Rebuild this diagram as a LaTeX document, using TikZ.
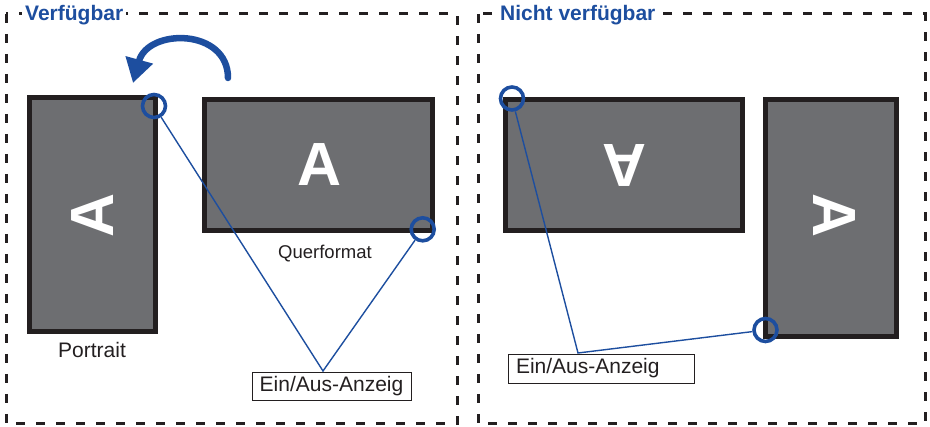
\documentclass[tikz,border=0pt]{standalone}
\usepackage{fontspec}
\setmainfont{Liberation Sans}
\usetikzlibrary{arrows.meta}
\definecolor{frameC}{HTML}{231F20}
\definecolor{screenC}{HTML}{6D6E71}
\definecolor{blueC}{HTML}{1D4E9F}
\begin{document}
\begin{tikzpicture}[x=1pt,y=-1pt,
  panel/.style={draw=frameC, line width=3pt, dash pattern=on 9pt off 11pt},
  screenbox/.style={draw=frameC, fill=screenC, line width=5pt},
  bigA/.style={text=white, font=\fontsize{61}{61}\selectfont\bfseries, inner sep=0pt},
  ring/.style={circle, draw=blueC, line width=3.6pt, minimum size=23pt, inner sep=0pt},
  conn/.style={draw=blueC, line width=1.4pt},
  title/.style={text=blueC, font=\fontsize{21}{25}\selectfont\bfseries, fill=white, inner xsep=3pt, inner ysep=1pt, anchor=base west},
  caption/.style={text=frameC, inner sep=0pt, anchor=base},
  labelbox/.style={draw=frameC, line width=0.8pt, text=frameC, font=\fontsize{21}{25}\selectfont, text height=15pt, text depth=4.5pt}
]
\useasboundingbox (0,0) rectangle (930,427);

% panels
\draw[panel] (6,14) rectangle (457,424);
\draw[panel] (478,14) rectangle (925,424);
\node[title] (t1) at (22,21) {Verfügbar};
\node[title] (t2) at (497,21) {Nicht verfügbar};

% left panel screens
\draw[screenbox] (29.5,97.5) rectangle (155.5,331.5);
\draw[screenbox] (204.5,99.5) rectangle (432.5,230.5);
\node[bigA, rotate=90] (a1) at (93,215) {A};
\node[bigA] (a2) at (320,165) {A};
\node[caption, font=\fontsize{21}{25}\selectfont] (cap1) at (92,358) {Portrait};
\node[caption, font=\fontsize{18.5}{22}\selectfont] (cap2) at (325,259) {Querformat};

% rotation arrow
\draw[blueC, line width=6.5pt, line cap=round, -{Triangle[length=24pt,width=27pt]}]
  (228,78) .. controls (228,28) and (148,28) .. (133,83);

% right panel screens
\draw[screenbox] (505.5,99.5) rectangle (742.5,230.5);
\draw[screenbox] (765.5,99.5) rectangle (896.5,336.5);
\node[bigA, rotate=180] (a3) at (624,165) {A};
\node[bigA, rotate=-90] (a4) at (834,216) {A};

% label boxes
\node[labelbox, minimum width=159pt, minimum height=28pt] (lab1) at (331.5,386) {Ein/Aus-Anzeig};
\node[labelbox, text width=170pt, inner xsep=8pt, minimum height=29pt, align=left] (lab2) at (601,368.5) {Ein/Aus-Anzeig};

% indicator rings
\node[ring] (c1) at (154,106) {};
\node[ring] (c2) at (422.7,229.3) {};
\node[ring] (c3) at (512,98.5) {};
\node[ring] (c4) at (765.5,330) {};

\coordinate (j1) at (323,371);
\coordinate (j2) at (578,353);
\draw[conn] (c1) -- (j1) -- (c2);
\draw[conn] (c3) -- (j2) -- (c4);
\end{tikzpicture}
\end{document}
